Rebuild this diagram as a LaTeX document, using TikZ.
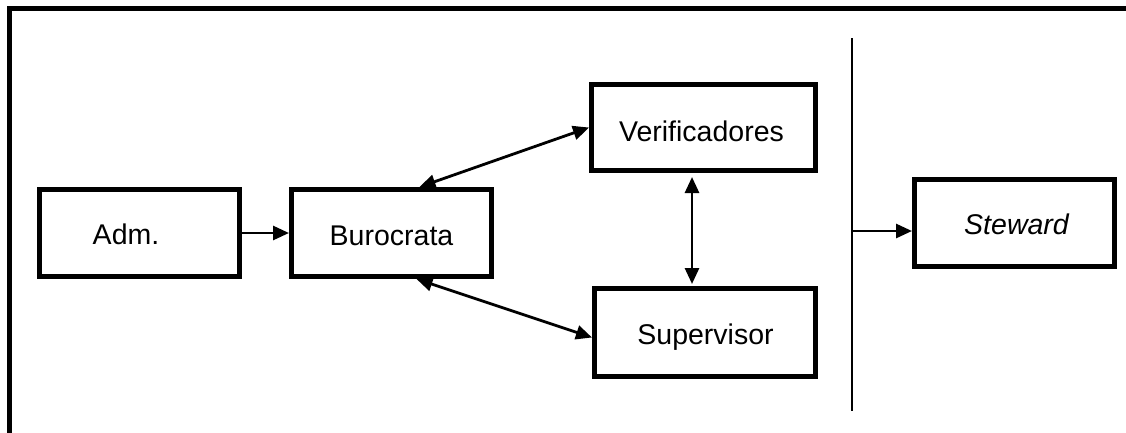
\documentclass[tikz,border=0pt]{standalone}
\usepackage{fontspec}
\setmainfont{Liberation Sans}
\usetikzlibrary{arrows.meta,calc}
\begin{document}
\begin{tikzpicture}[x=1pt,y=-1pt,
  box/.style={draw=black,line width=5pt,minimum width=200pt,minimum height=87pt,inner sep=0pt},
  lbl/.style={anchor=base,inner sep=0pt,font=\fontsize{28.5}{30}\selectfont},
  conn/.style={line width=2.8pt,-{Triangle[length=16pt,width=14pt]}},
  biconn/.style={line width=2.8pt,{Triangle[length=16pt,width=14pt]}-{Triangle[length=16pt,width=14pt]}}]
\useasboundingbox (0,0) rectangle (1126,432);
\clip (0,0) rectangle (1126,432);
% outer frame (cut at right and bottom)
\draw[line width=5pt] (1140,8.5) -- (9.5,8.5) -- (9.5,450);
% boxes
\node[box] (adm) at (139.5,233) {};
\node[box] (buro) at (391.5,233) {};
\node[box,minimum width=224pt,minimum height=86pt] (verif) at (703.5,127.5) {};
\node[box,minimum width=221pt,minimum height=88pt] (sup) at (705,332.5) {};
\node[box,minimum width=200pt,minimum height=87pt] (stew) at (1014.5,223) {};
% labels
\node[lbl] (tadm) at (126,244) {Adm.};
\node[lbl] (tburo) at (391.5,245) {Burocrata};
\node[lbl] (tverif) at (701.5,141) {Verificadores};
\node[lbl] (tsup) at (705.5,344) {Supervisor};
\node[lbl] (tstew) at (1016.5,234) {\itshape Steward};
% connectors
\draw[conn] (adm.east) -- (buro.west);
\draw[biconn] ([xshift=28pt]buro.north) -- (verif.west);
\draw[biconn] ([xshift=25pt]buro.south) -- ([yshift=-5pt]sup.west);
\draw[biconn,shorten <=4pt,shorten >=2pt] ([xshift=-11.5pt]verif.south) -- ([xshift=-13pt]sup.north);
% vertical divider and arrow to Steward
\coordinate (vtop) at (852,38);
\coordinate (vbot) at (852,411);
\coordinate (vmid) at (852,231);
\draw[line width=2pt] (vtop) -- (vbot);
\draw[conn] (vmid) -- (vmid -| stew.west);
\end{tikzpicture}
\end{document}
